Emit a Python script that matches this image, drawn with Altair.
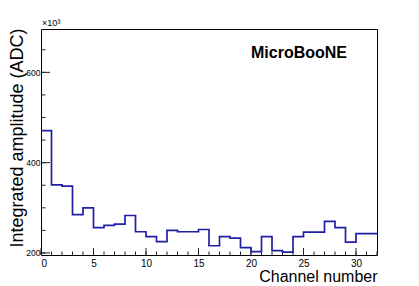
import altair as alt
import pandas as pd

# Histogram: integrated amplitude (x10^3 ADC) per channel (bins of width 1, 0..32)
channels = list(range(32))
amplitude = [471, 351, 348, 285, 300, 256, 261, 264, 283, 247,
             236, 225, 250, 247, 247, 252, 216, 236, 233, 212,
             203, 236, 205, 202, 236, 246, 246, 270, 256, 224,
             243, 243]

x_major = [0, 5, 10, 15, 20, 25, 30]
x_minor = list(range(0, 33))
y_major = [200, 400, 600]
y_minor = [200, 250, 300, 350, 400, 450, 500, 550, 600, 650]

x_domain = [0, 32]
y_domain = [195.5, 696]

x_title = "Channel number"
y_title = "Integrated amplitude (ADC)"
exp_label = ["×10³"]
experiment = ["MicroBooNE"]

W, H = 336, 226
FONT = "Liberation Sans"
LINE = "#1f1fa8"

edges = channels + [32]
vals = amplitude + [amplitude[-1]]
hist = pd.DataFrame({"x": edges, "y": vals})

xs = alt.Scale(domain=x_domain, nice=False, zero=False)
ys = alt.Scale(domain=y_domain, nice=False, zero=False)

line = alt.Chart(hist).mark_line(
    interpolate="step-after", color=LINE, strokeWidth=1.7
).encode(
    x=alt.X("x:Q", scale=xs, axis=alt.Axis(
        values=x_major, ticks=False, domain=False, grid=False,
        labelFontSize=10, labelFont=FONT, labelPadding=3, labelColor="#000",
        title=x_title, titleFont=FONT, titleFontSize=16, titleFontWeight="normal",
        titleAnchor="end", titleAlign="right", titleX=W, titleY=26.5,
        titleBaseline="alphabetic", titleColor="#000")),
    y=alt.Y("y:Q", scale=ys, axis=alt.Axis(
        values=y_major, ticks=False, domain=False, grid=False,
        labelFontSize=8.5, labelFont=FONT, labelPadding=1, labelColor="#000",
        title=y_title, titleFont=FONT, titleFontSize=18, titleFontWeight="normal",
        titleAngle=270, titleAlign="right", titleBaseline="middle",
        titleX=-24, titleY=-1, titleColor="#000")),
)

def xticks(vals, length):
    return alt.Chart(pd.DataFrame({"t": vals})).mark_rule(
        color="#222", strokeWidth=1
    ).encode(x=alt.X("t:Q", scale=xs), y=alt.value(H), y2=alt.value(H - length))

def yticks(vals, length):
    return alt.Chart(pd.DataFrame({"t": vals})).mark_rule(
        color="#222", strokeWidth=1
    ).encode(y=alt.Y("t:Q", scale=ys), x=alt.value(0), x2=alt.value(length))

exp_text = alt.Chart(pd.DataFrame({"s": exp_label})).mark_text(
    align="left", baseline="alphabetic", font=FONT, fontSize=9, color="#000"
).encode(text="s:N", x=alt.value(1), y=alt.value(-3))

mb_text = alt.Chart(pd.DataFrame({"s": experiment})).mark_text(
    align="left", baseline="alphabetic", font=FONT, fontSize=16,
    fontWeight="bold", color="#000"
).encode(text="s:N", x=alt.value(210), y=alt.value(28.5))

chart = alt.layer(
    xticks(x_minor, 3.5), xticks(x_major, 7),
    yticks(y_minor, 4.5), yticks(y_major, 9),
    line, exp_text, mb_text
).properties(
    width=W, height=H,
    autosize=alt.AutoSizeParams(type="none"),
    padding={"left": 33, "top": 21, "right": 34, "bottom": 29},
    background="white",
).configure_view(stroke="#000", strokeWidth=1)

chart.save("out.html", embed_options={"renderer": "svg", "actions": False})
